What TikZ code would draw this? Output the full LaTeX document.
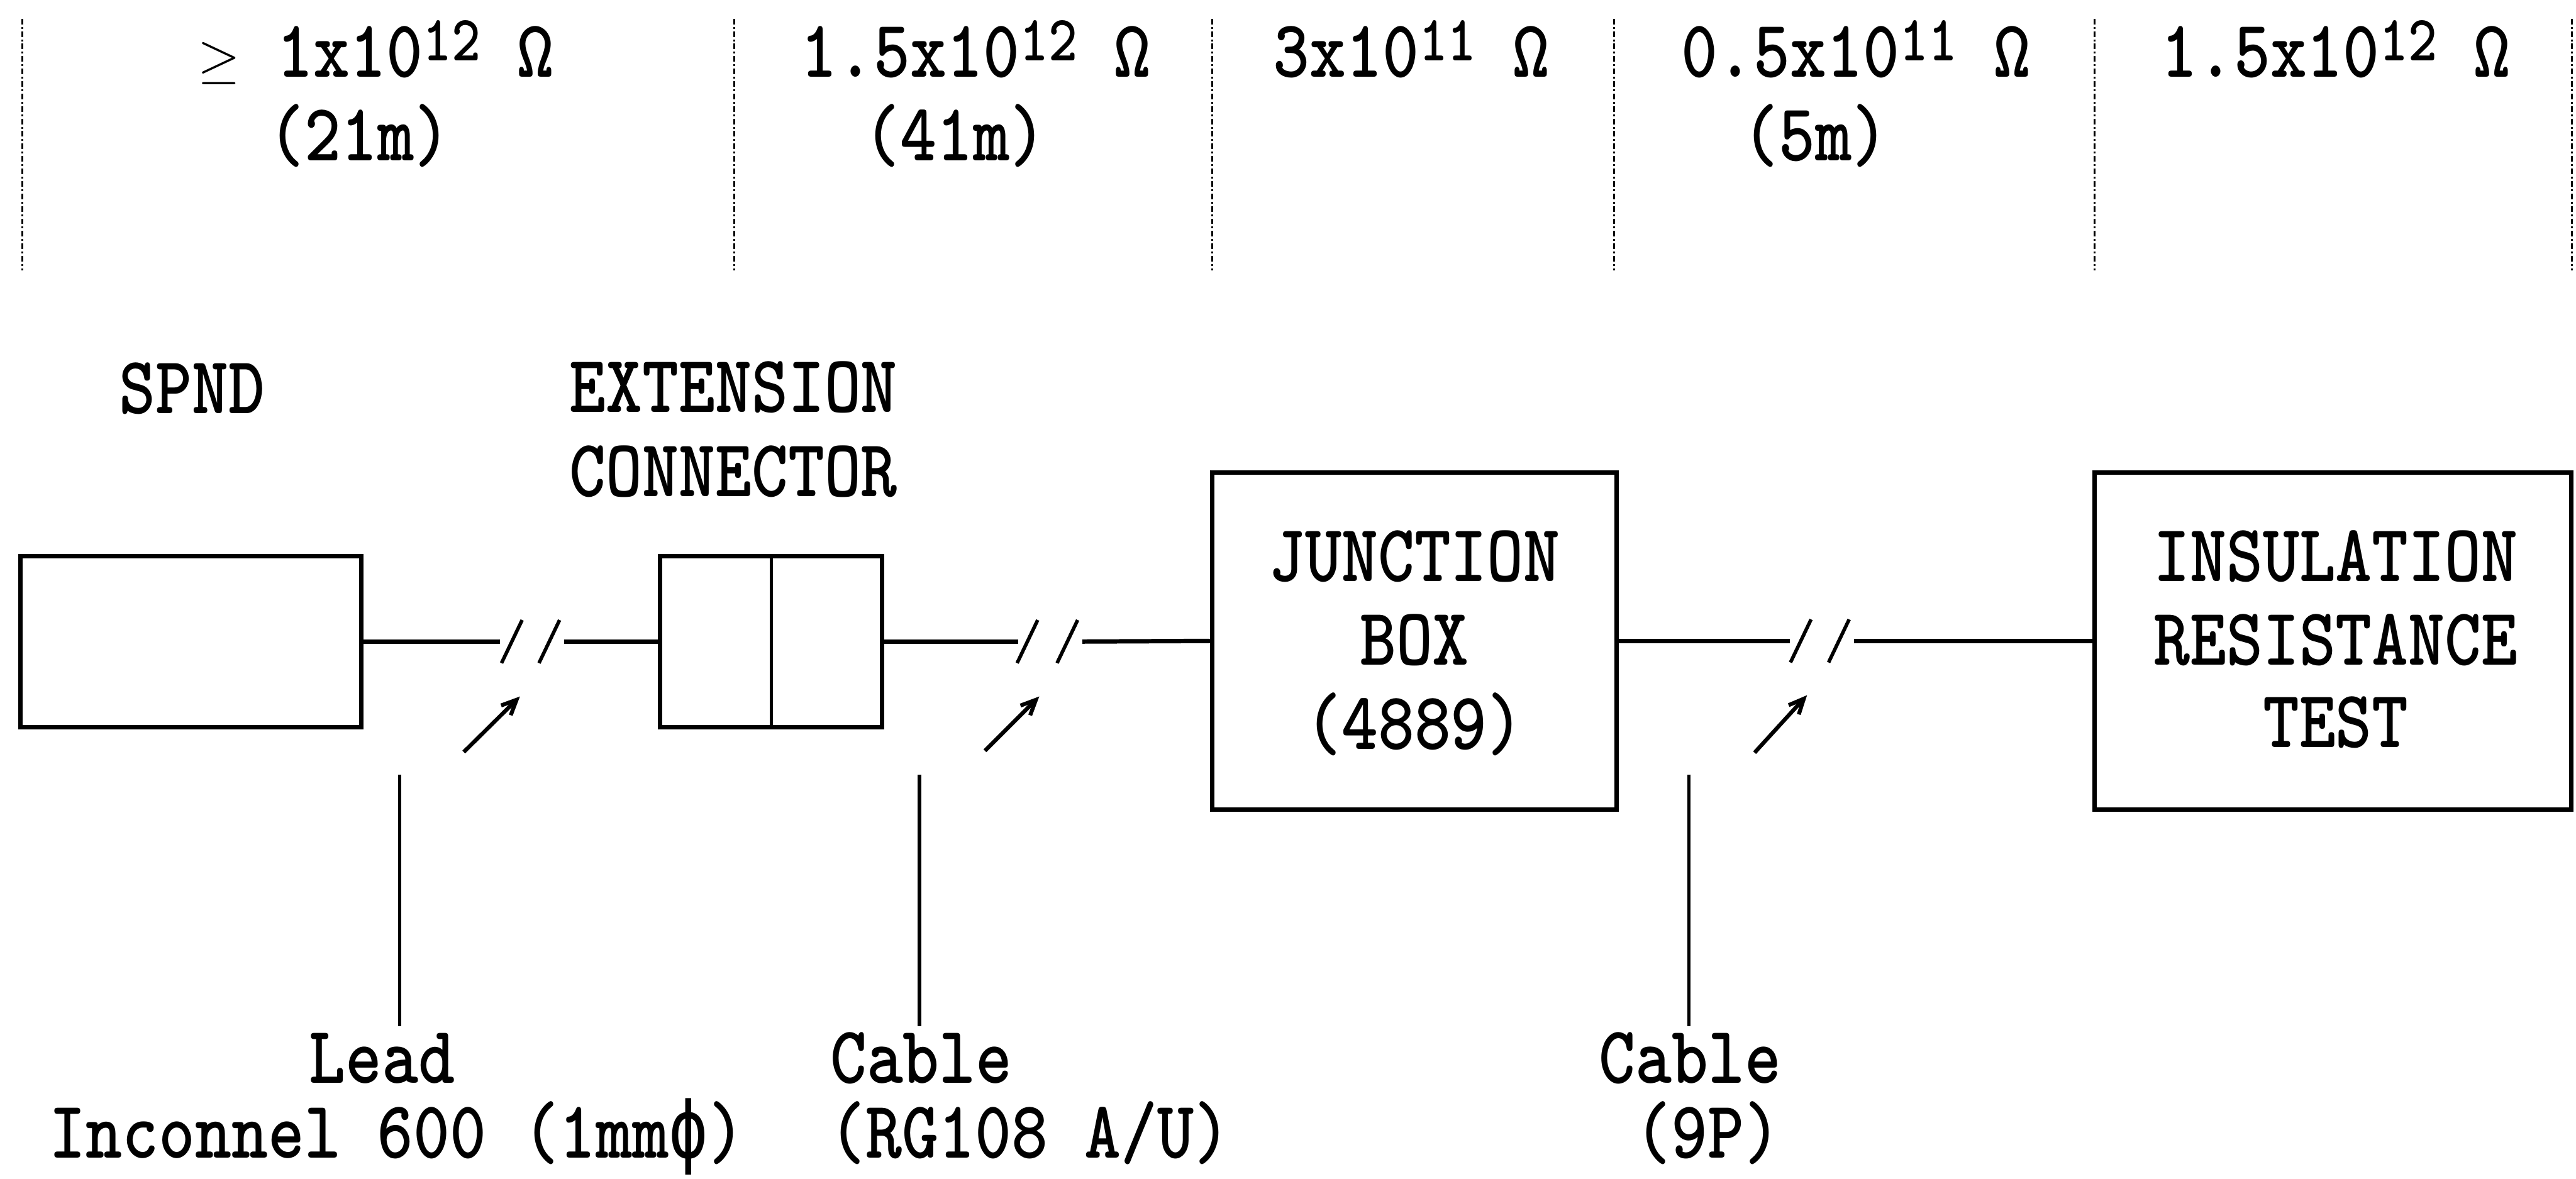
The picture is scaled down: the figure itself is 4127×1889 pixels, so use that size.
\documentclass[tikz,border=0pt]{standalone}
\usepackage{fontspec}
\IfFontExistsTF{lmmonolt10-bold.otf}{\setmonofont{lmmonolt10-bold.otf}[FakeStretch=0.85]}{\setmonofont{Liberation Mono}[FakeStretch=0.8]}
\newfontfamily\dvmono{DejaVu Sans Mono}[FakeStretch=0.8]
\usetikzlibrary{arrows.meta}
\newcommand\sups[1]{\raisebox{0.26cm}{\fontsize{29.5}{29.5}\selectfont #1}}
\newcommand\gee{{\fontsize{28}{28}\selectfont$\geq$}}
\begin{document}
\begin{tikzpicture}[x=0.01cm,y=-0.01cm,
  lbl/.style={font=\ttfamily\fontsize{37.2}{38.4}\selectfont, inner sep=0pt, anchor=base},
  box/.style={draw, line width=2pt, inner sep=0pt},
  wire/.style={line width=2pt},
  brk/.style={line width=1.6pt},
  leadline/.style={line width=1.5pt},
  sep/.style={line width=0.9pt, dash pattern=on 0.09cm off 0.04cm on 0.03cm off 0.04cm},
  ptr/.style={line width=1.8pt, -{Straight Barb[length=0.24cm,width=0.22cm]}}]
\useasboundingbox (0,0) rectangle (4127,1889);

% dashed separators
\foreach \i/\xx in {1/36,2/1176,3/1942,4/2586,5/3356,6/4120}{
  \coordinate (s\i t) at (\xx,30);
  \coordinate (s\i b) at (\xx,433);
  \draw[sep] (s\i t) -- (s\i b);
}

% top resistance labels
\node[lbl] (r1a) at (602,123) {\gee\ 1x10\sups{12} Ω};
\node[lbl] (r1b) at (576,257) {(21m)};
\node[lbl] (r2a) at (1563,123) {1.5x10\sups{12} Ω};
\node[lbl] (r2b) at (1530,257) {(41m)};
\node[lbl] (r3a) at (2261,123) {3x10\sups{11} Ω};
\node[lbl] (r4a) at (2973,123) {0.5x10\sups{11} Ω};
\node[lbl] (r4b) at (2908,257) {(5m)};
\node[lbl] (r5a) at (3742,123) {1.5x10\sups{12} Ω};

% component titles
\node[lbl] (tspnd) at (308,662) {SPND};
\node[lbl] (text1) at (1175,660) {EXTENSION};
\node[lbl] (text2) at (1175,795) {CONNECTOR};

% boxes
\node[box, minimum width=5.46cm, minimum height=2.74cm] (spnd) at (306,1028) {};
\node[box, minimum width=3.55cm, minimum height=2.74cm] (ext) at (1235.5,1028) {};
\draw[line width=1.5pt] (ext.north) -- (ext.south);
\node[box, minimum width=6.48cm, minimum height=5.40cm] (jb) at (2266,1027) {};
\node[box, minimum width=7.63cm, minimum height=5.40cm] (irt) at (3737.5,1027) {};

\node[lbl] (jb1) at (2266,931) {JUNCTION};
\node[lbl] (jb2) at (2266,1065) {BOX};
\node[lbl] (jb3) at (2266,1201) {(4889)};
\node[lbl] (ir1) at (3742,931) {INSULATION};
\node[lbl] (ir2) at (3742,1065) {RESISTANCE};
\node[lbl] (ir3) at (3742,1197) {TEST};

% wires with breaks
\coordinate (w1a) at (801,1028);  \coordinate (w1b) at (904,1028);
\coordinate (w2a) at (1631,1028); \coordinate (w2b) at (1734,1028);
\coordinate (w3a) at (2868,1027); \coordinate (w3b) at (2970,1027);
\draw[wire] (spnd.east) -- (w1a);
\draw[wire] (w1b) -- (ext.west);
\draw[wire] (ext.east) -- (w2a);
\draw[wire] (w2b) -- (jb.west);
\draw[wire] (jb.east) -- (w3a);
\draw[wire] (w3b) -- (irt.west);

\foreach \n/\xx/\yy in {k1/820/1028,k2/880/1028,k3/1646/1028,k4/1710/1028,k5/2885/1027,k6/2946/1027}{
  \coordinate (\n) at (\xx,\yy);
  \draw[brk] (\n) ++(-16.5,34.5) -- ++(33,-69);
}

% pointer arrows
\coordinate (p1a) at (743,1205);  \coordinate (p1b) at (833,1116);
\coordinate (p2a) at (1578,1203); \coordinate (p2b) at (1665,1116);
\coordinate (p3a) at (2811,1206); \coordinate (p3b) at (2895,1114);
\draw[ptr] (p1a) -- (p1b);
\draw[ptr] (p2a) -- (p2b);
\draw[ptr] (p3a) -- (p3b);

% leader lines
\coordinate (l1t) at (640,1241);  \coordinate (l1b) at (640,1644);
\coordinate (l2t) at (1473,1241); \coordinate (l2b) at (1473,1644);
\coordinate (l3t) at (2706,1241); \coordinate (l3b) at (2706,1644);
\draw[leadline] (l1t) -- (l1b);
\draw[leadline] (l2t) -- (l2b);
\draw[leadline] (l3t) -- (l3b);

% bottom labels
\node[lbl] (b1a) at (612,1736) {Lead};
\node[lbl] (b1b) at (636,1855) {Inconnel 600 (1mm{\dvmono ϕ})};
\node[lbl] (b2a) at (1476,1736) {Cable};
\node[lbl] (b2b) at (1650,1855) {(RG108 A/U)};
\node[lbl] (b3a) at (2708,1736) {Cable};
\node[lbl] (b3b) at (2736,1855) {(9P)};
\end{tikzpicture}
\end{document}
